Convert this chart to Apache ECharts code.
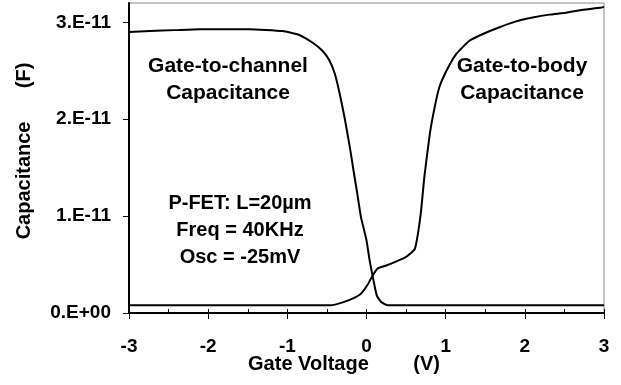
<!DOCTYPE html>
<html>
<head>
<meta charset="utf-8">
<script src="https://cdn.jsdelivr.net/npm/echarts@6/dist/echarts.min.js"></script>
<style>
  html, body { margin: 0; padding: 0; background: #fff; }
  #chart { width: 621px; height: 385px; }
</style>
</head>
<body>
<div id="chart"></div>
<script>
"use strict";
/*global echarts*/

// gate-to-channel capacitance (F) vs gate voltage (V)
var channelV = [-3.0, -2.74, -2.42, -2.11, -1.48, -1.06, -0.85, -0.68, -0.56, -0.47, -0.40, -0.34, -0.28,
  -0.21, -0.16, -0.12, -0.07, 0.0, 0.04, 0.08, 0.13, 0.19, 0.27, 1.0, 2.0, 3.0];
var channelC = [2.90e-11, 2.91e-11, 2.92e-11, 2.93e-11, 2.93e-11, 2.91e-11, 2.87e-11, 2.79e-11, 2.71e-11,
  2.61e-11, 2.47e-11, 2.27e-11, 2.03e-11, 1.71e-11, 1.45e-11, 1.25e-11, 0.99e-11, 0.75e-11, 0.54e-11,
  0.37e-11, 0.18e-11, 0.11e-11, 0.08e-11, 0.08e-11, 0.08e-11, 0.08e-11];

// gate-to-body capacitance
var bodyV = [-3.0, -2.0, -1.0, -0.45, -0.30, -0.17, -0.07, 0.02, 0.08, 0.14, 0.25, 0.37, 0.50, 0.61,
  0.65, 0.69, 0.73, 0.80, 0.86, 0.92, 1.01, 1.13, 1.30, 1.47, 1.68, 1.89, 2.10, 2.31, 2.52, 2.73, 2.95, 3.0];
var bodyC = [0.08e-11, 0.08e-11, 0.08e-11, 0.08e-11, 0.11e-11, 0.15e-11, 0.20e-11, 0.30e-11, 0.39e-11,
  0.46e-11, 0.49e-11, 0.53e-11, 0.58e-11, 0.66e-11, 0.82e-11, 1.06e-11, 1.40e-11, 1.85e-11, 2.12e-11,
  2.33e-11, 2.50e-11, 2.67e-11, 2.81e-11, 2.88e-11, 2.95e-11, 3.01e-11, 3.05e-11, 3.08e-11, 3.10e-11,
  3.13e-11, 3.15e-11, 3.16e-11];

var yTickLabels = ["0.E+00", "1.E-11", "2.E-11", "3.E-11"];

var FONT = "'Liberation Sans', Arial, sans-serif";

function pairs(xs, ys) {
  var out = [];
  for (var i = 0; i < xs.length; i++) {
    out.push([xs[i], ys[i]]);
  }
  return out;
}

var myChart = echarts.init(document.getElementById("chart"));

var xBase = {
  type: "value",
  min: -3,
  max: 3,
  interval: 1,
  splitLine: { show: false }
};

var option = {
  animation: false,
  grid: {
    left: 129,
    right: 17,
    top: 3,
    bottom: 72,
    show: true,
    borderColor: "#888",
    borderWidth: 1
  },
  xAxis: [
    Object.assign({}, xBase, {
      axisLine: { onZero: false, lineStyle: { color: "#000", width: 2 } },
      axisTick: { inside: true, length: 4, lineStyle: { color: "#000", width: 1 } },
      minorTick: { show: true, splitNumber: 2, length: 4, lineStyle: { color: "#000", width: 1 } },
      axisLabel: {
        margin: 24,
        color: "#000",
        fontFamily: FONT,
        fontWeight: "bold",
        fontSize: 19
      }
    }),
    // outer half of the crossing major ticks
    Object.assign({}, xBase, {
      position: "bottom",
      axisLine: { show: false, onZero: false },
      axisTick: { inside: false, length: 6, lineStyle: { color: "#000", width: 1 } },
      axisLabel: { show: false }
    })
  ],
  yAxis: {
    type: "value",
    min: 0,
    max: 3.2e-11,
    interval: 1e-11,
    splitLine: { show: false },
    axisLine: { show: true, onZero: false, lineStyle: { color: "#000", width: 2 } },
    axisTick: { show: true, length: 6, lineStyle: { color: "#000", width: 1 } },
    axisLabel: {
      margin: 18,
      showMaxLabel: false,
      color: "#000",
      fontFamily: FONT,
      fontWeight: "bold",
      fontSize: 19,
      formatter: function (v) {
        return yTickLabels[Math.round(v / 1e-11)] || "";
      }
    }
  },
  series: [
    {
      name: "Gate-to-channel",
      type: "line",
      xAxisIndex: 0,
      data: pairs(channelV, channelC),
      showSymbol: false,
      smooth: 0.15,
      lineStyle: { color: "#000", width: 2 }
    },
    {
      name: "Gate-to-body",
      type: "line",
      xAxisIndex: 0,
      data: pairs(bodyV, bodyC),
      showSymbol: false,
      smooth: 0.15,
      lineStyle: { color: "#000", width: 2 }
    }
  ],
  graphic: [
    { type: "text", x: 24, y: 151, rotation: Math.PI / 2,
      style: { text: "Capacitance      (F)", font: "bold 20px " + FONT, fill: "#000", align: "center", verticalAlign: "middle" } },
    { type: "text", x: 344, y: 364,
      style: { text: "Gate Voltage        (V)", font: "bold 20px " + FONT, fill: "#000", align: "center", verticalAlign: "middle" } },
    { type: "text", x: 228, y: 80,
      style: { text: "Gate-to-channel\nCapacitance", font: "bold 21px " + FONT, lineHeight: 27, fill: "#000", align: "center", verticalAlign: "middle" } },
    { type: "text", x: 522, y: 80,
      style: { text: "Gate-to-body\nCapacitance", font: "bold 21px " + FONT, lineHeight: 27, fill: "#000", align: "center", verticalAlign: "middle" } },
    { type: "text", x: 240, y: 230,
      style: { text: "P-FET: L=20\u00b5m\nFreq = 40KHz\nOsc = -25mV", font: "bold 20px " + FONT, lineHeight: 27, fill: "#000", align: "center", verticalAlign: "middle" } }
  ]
};

myChart.setOption(option);

window.onresize = function () {
  myChart.resize();
};
</script>
</body>
</html>
